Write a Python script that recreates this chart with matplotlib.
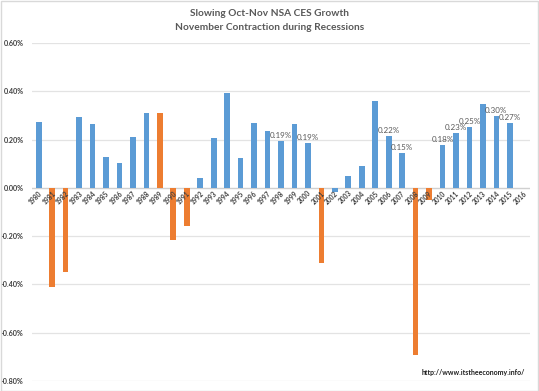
import matplotlib.pyplot as plt
from matplotlib.patches import Rectangle

plt.rcParams['font.family'] = ['Lato', 'DejaVu Sans']

# ── Data ──────────────────────────────────────────────────────────────
YEARS = list(range(1980, 2017))
GROWTH = [
    0.274, -0.411, -0.349, 0.293, 0.264, 0.126, 0.105, 0.209, 0.311, 0.310,
    -0.217, -0.158, 0.040, 0.205, 0.392, 0.122, 0.267, 0.234, 0.193, 0.266,
    0.186, -0.313, -0.016, 0.050, 0.090, 0.359, 0.216, 0.146, -0.692, -0.050,
    0.179, 0.227, 0.252, 0.349, 0.297, 0.270, 0.0,
]
RECESSION_YEARS = [1981, 1982, 1989, 1990, 1991, 2001, 2008, 2009]
LABELLED_YEARS = [1998, 2000, 2006, 2007, 2010, 2011, 2012, 2014, 2015]
Y_TICKS = [-0.8, -0.6, -0.4, -0.2, 0.0, 0.2, 0.4, 0.6]

BLUE = "#5B9BD5"
ORANGE = "#ED7D31"
GRID = "#e3e3e3"
TEXT = "#595959"

W, H = 539, 391
fig = plt.figure(figsize=(W / 100, H / 100), dpi=100)
ax = fig.add_axes([32 / W, 1 - 381 / H, (530 - 32) / W, (381 - 43) / H])

colors = [ORANGE if y in RECESSION_YEARS else BLUE for y in YEARS]
xs = list(range(len(YEARS)))
ax.bar(xs, GROWTH, width=0.42, color=colors, zorder=3)

ax.set_xlim(-0.5, len(YEARS) - 0.5)
ax.set_ylim(-0.8, 0.6)
ax.set_yticks(Y_TICKS)
ax.set_yticklabels([f"{v:.2f}%" for v in Y_TICKS], fontsize=5.2,
                   fontweight="bold", color="#404040")
ax.tick_params(axis="y", length=0, pad=6)
ax.set_xticks([])
for s in ax.spines.values():
    s.set_visible(False)
ax.grid(axis="y", color=GRID, linewidth=0.9, zorder=0)
ax.axhline(0, color="#d0d0d0", linewidth=0.9, zorder=2)

# year labels sitting on the zero line
for i, yr in enumerate(YEARS):
    ax.annotate(str(yr), (i, 0), xytext=(1.5, -3), textcoords="offset points",
                rotation=45, ha="right", va="center", rotation_mode="anchor",
                fontsize=4.8, fontweight="bold", color="#404040", zorder=4)

# data labels
for i, yr in enumerate(YEARS):
    if yr in LABELLED_YEARS:
        ax.annotate(f"{GROWTH[i]:.2f}%", (i, GROWTH[i]),
                    xytext=(0, 1.5), textcoords="offset points",
                    ha="center", va="bottom", fontsize=5.8, color=TEXT, zorder=4)

fig.text(0.5, 1 - 14 / H, "Slowing Oct-Nov NSA CES Growth", ha="center",
         va="center", fontsize=7.3, fontweight="bold", color=TEXT)
fig.text(0.5, 1 - 28 / H, "November Contraction during Recessions", ha="center",
         va="center", fontsize=7.3, fontweight="bold", color=TEXT)
fig.text(525 / W, 1 - 372 / H, "http://www.itstheeconomy.info/", ha="right",
         va="center", fontsize=5, fontweight="bold", color="#202020")

fig.patches.append(Rectangle((0.001, 0.001), 0.997, 0.997, transform=fig.transFigure,
                             fill=False, edgecolor="#d9d9d9", linewidth=1))

fig.savefig("out.png", dpi=100)
